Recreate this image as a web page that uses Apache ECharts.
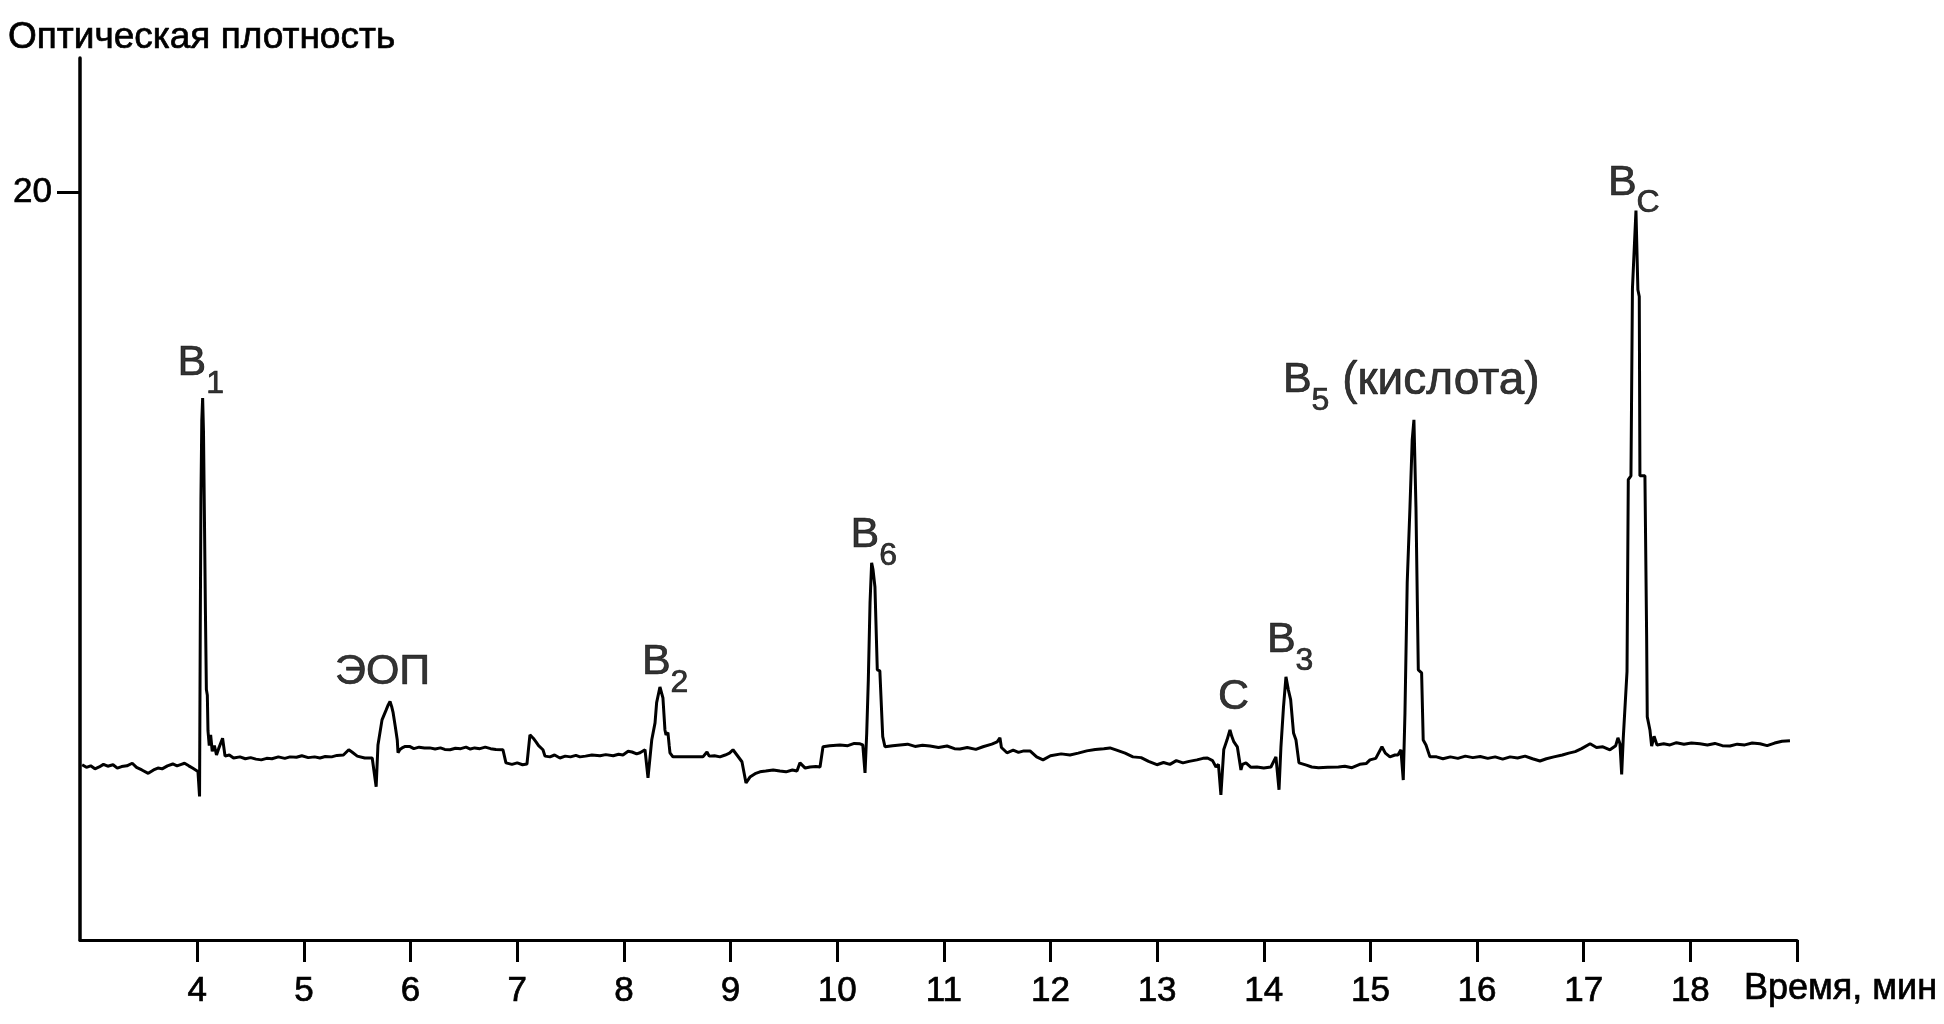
<!DOCTYPE html>
<html>
<head>
<meta charset="utf-8">
<script src="https://cdn.jsdelivr.net/npm/echarts@6/dist/echarts.min.js"></script>
<style>
html,body{margin:0;padding:0;background:#fff;}
#chart{width:1944px;height:1024px;}
</style>
</head>
<body>
<div id="chart"></div>
<script>
// ---- data ----
const yAxisTitle = 'Оптическая плотность';
const xAxisTitle = 'Время, мин';
const xTickValues = [4,5,6,7,8,9,10,11,12,13,14,15,16,17,18,19];
const xLabelValues = [4,5,6,7,8,9,10,11,12,13,14,15,16,17,18];
const yTickValues = [20];

const time = [
2.92,2.96,3.00,3.04,3.08,3.12,3.16,3.21,3.25,3.29,3.34,3.39,3.43,3.48,3.54,3.59,3.63,3.67,3.72,3.77,3.81,3.85,3.88,3.92,3.955,4.006,4.015,
4.021,4.028,4.034,4.042,4.050,4.058,4.066,4.076,4.085,4.094,4.100,4.112,4.125,4.140,4.160,4.180,4.200,4.237,4.26,4.30,4.34,4.40,4.45,4.50,
4.55,4.60,4.65,4.70,4.76,4.82,4.87,4.93,4.98,5.04,5.10,5.15,5.20,5.26,5.31,5.37,5.42,5.45,5.50,5.57,5.64,
5.677,5.694,5.732,5.770,5.790,5.807,5.822,5.835,5.857,5.875,5.882,5.900,5.92,5.95,5.99,6.03,6.08,6.13,6.18,6.23,6.28,6.32,6.37,6.42,6.47,
6.52,6.56,6.60,6.65,6.70,6.75,6.80,6.866,6.894,6.95,7.00,7.05,7.091,7.119,7.15,7.176,7.20,7.241,7.26,7.307,7.35,7.40,7.45,7.50,7.55,7.588,
7.64,7.70,7.776,7.83,7.90,7.95,7.991,8.04,8.076,8.12,8.151,8.198,8.226,8.261,8.292,8.307,8.338,8.366,8.385,8.395,8.413,8.425,8.432,8.460,
8.52,8.60,8.68,8.741,8.779,8.80,8.85,8.901,8.95,8.99,9.023,9.06,9.107,9.145,9.182,9.23,9.276,9.33,9.40,9.463,9.52,9.58,9.623,9.651,9.70,
9.745,9.80,9.839,9.867,9.93,10.026,10.10,10.16,10.214,10.24,10.261,10.277,10.292,10.308,10.323,10.336,10.354,10.376,10.40,10.411,10.427,
10.448,10.52,10.589,10.66,10.73,10.80,10.870,10.95,11.03,11.10,11.151,11.22,11.30,11.367,11.45,11.50,11.526,11.54,11.592,11.65,11.70,
11.75,11.808,11.87,11.930,12.00,12.10,12.183,12.26,12.34,12.42,12.50,12.558,12.62,12.70,12.773,12.85,12.92,12.998,13.06,13.12,13.18,
13.242,13.30,13.373,13.43,13.472,13.52,13.552,13.575,13.598,13.625,13.655,13.683,13.700,13.720,13.752,13.786,13.80,13.833,13.88,13.936,
14.00,14.067,14.114,14.143,14.161,14.185,14.208,14.230,14.252,14.279,14.302,14.330,14.40,14.45,14.513,14.60,14.70,14.76,14.827,14.90,
14.96,14.996,15.05,15.108,15.14,15.183,15.23,15.258,15.286,15.308,15.324,15.345,15.371,15.392,15.408,15.427,15.449,15.465,15.480,15.495,
15.521,15.558,15.62,15.68,15.75,15.82,15.89,15.96,16.03,16.10,16.17,16.24,16.31,16.38,16.45,16.52,16.59,16.65,16.72,16.80,16.86,16.92,
16.98,17.06,17.12,17.18,17.246,17.30,17.321,17.340,17.356,17.371,17.406,17.418,17.443,17.457,17.490,17.508,17.521,17.527,17.574,17.590,
17.596,17.621,17.637,17.660,17.687,17.75,17.809,17.87,17.94,18.01,18.090,18.16,18.23,18.30,18.371,18.44,18.51,18.58,18.653,18.72,18.79,
18.86,18.934
];
const density = [
4.69,4.62,4.66,4.58,4.63,4.70,4.65,4.69,4.60,4.64,4.66,4.73,4.62,4.55,4.46,4.55,4.60,4.58,4.66,4.71,4.66,4.70,4.73,4.66,4.60,4.51,4.55,
3.84,8.5,11.8,13.9,14.5,13.6,11.5,8.8,6.7,6.55,5.6,5.2,5.49,5.05,5.20,4.95,5.12,5.40,4.92,4.95,4.87,4.90,4.85,4.88,
4.84,4.82,4.86,4.85,4.90,4.86,4.90,4.89,4.93,4.88,4.90,4.87,4.91,4.90,4.94,4.95,5.09,5.03,4.92,4.87,4.87,
4.10,5.22,5.89,6.15,6.29,6.38,6.25,6.10,5.70,5.35,5.01,5.10,5.14,5.18,5.18,5.12,5.16,5.14,5.14,5.11,5.14,5.10,5.09,5.13,5.12,
5.16,5.11,5.14,5.12,5.16,5.12,5.10,5.09,4.74,4.70,4.74,4.69,4.71,5.49,5.40,5.30,5.20,5.09,4.92,4.90,4.95,4.87,4.92,4.90,4.94,4.90,
4.92,4.95,4.93,4.96,4.93,4.97,4.95,5.05,5.03,4.98,5.01,5.09,4.34,5.35,5.81,6.35,6.77,6.48,5.62,5.49,5.55,5.20,5.01,4.90,
4.90,4.90,4.90,4.90,5.03,4.92,4.93,4.90,4.95,5.00,5.09,4.95,4.77,4.20,4.36,4.45,4.50,4.52,4.55,4.52,4.50,4.55,4.52,4.74,4.60,
4.63,4.64,4.63,5.17,5.20,5.22,5.20,5.26,5.25,5.22,4.47,5.54,6.96,9.02,10.09,9.91,9.45,7.23,7.20,7.15,5.44,
5.17,5.20,5.22,5.24,5.18,5.21,5.19,5.15,5.19,5.12,5.11,5.15,5.10,5.17,5.24,5.30,5.41,5.15,5.01,5.08,5.02,
5.06,5.06,4.90,4.82,4.93,4.98,4.95,5.00,5.06,5.10,5.12,5.14,5.08,5.00,4.90,4.88,4.78,4.69,4.75,4.70,4.80,
4.74,4.78,4.82,4.86,4.87,4.80,4.63,4.70,3.88,5.10,5.35,5.62,5.45,5.30,5.17,4.55,4.70,4.74,4.62,4.63,
4.60,4.63,4.90,4.02,5.17,6.24,7.04,6.70,6.43,5.54,5.35,4.74,4.68,4.63,4.61,4.62,4.63,4.65,4.61,4.70,
4.72,4.82,4.86,5.17,5.00,4.90,4.95,4.95,5.09,4.28,6.08,9.56,11.59,13.39,13.92,11.59,7.23,7.20,7.15,5.35,
5.22,4.90,4.90,4.85,4.90,4.86,4.92,4.88,4.91,4.86,4.90,4.84,4.90,4.87,4.92,4.85,4.79,4.85,4.90,4.95,5.00,5.04,
5.12,5.25,5.15,5.17,5.09,5.20,5.41,5.25,4.43,5.41,7.18,12.32,12.42,17.43,19.52,17.40,17.22,12.42,12.42,8.14,
5.97,5.62,5.19,5.45,5.22,5.25,5.22,5.28,5.24,5.27,5.25,5.22,5.26,5.20,5.19,5.24,5.22,5.27,5.25,5.20,5.27,
5.32,5.33
];

// peak annotations (attached to peak apexes)
const peakNames  = ['B1', 'ЭОП', 'B2', 'B6', 'C', 'B3', 'B5', 'BC'];
const peakLabels = ['{b|B}{s|1}', '{b|ЭОП}', '{b|B}{s|2}', '{b|B}{s|6}', '{b|C}', '{b|B}{s|3}', '{b|B}{s|5}{w| (кислота)}', '{b|B}{s|C}'];
const peakTimes  = [4.050, 5.807, 8.338, 10.323, 13.683, 14.208, 15.408, 17.490];
const peakValues = [14.5, 6.38, 6.77, 10.09, 5.62, 7.04, 13.92, 19.52];

// label placement (pixels relative to apex): [dx, gap above apex]
const labelPlacement = [[-25,19],[-55,14],[-18,9],[-21,12],[-12,17],[-19,21],[-131,24],[-28,12]];

// ---- chart ----
const FONT = '"Liberation Sans", Arial, sans-serif';
const INK = {color: '#000', textBorderColor: '#000', textBorderWidth: 0.7};
const chart = echarts.init(document.getElementById('chart'), null, {renderer: 'canvas'});

const trace = time.map((t, i) => [t, density[i]]);
const peaks = peakTimes.map((t, i) => ({
  value: [t, peakValues[i]],
  name: peakNames[i],
  label: {
    formatter: peakLabels[i],
    offset: [labelPlacement[i][0], -labelPlacement[i][1] - 37]
  }
}));

chart.setOption({
  animation: false,
  backgroundColor: '#fff',
  title: [
    {text: yAxisTitle, left: 8, top: 19, padding: 0,
     textStyle: Object.assign({fontFamily: FONT, fontSize: 37, fontWeight: 'normal'}, INK)},
    {text: xAxisTitle, left: 1744, top: 971, padding: 0,
     textStyle: Object.assign({fontFamily: FONT, fontSize: 36, fontWeight: 'normal'}, INK)}
  ],
  grid: {left: 80, right: 147, top: 58, bottom: 84, containLabel: false},
  xAxis: {
    type: 'value', min: 2.9, max: 19,
    axisLine: {show: true, onZero: false, lineStyle: {color: '#000', width: 3}},
    axisTick: {show: true, inside: false, length: 22, customValues: xTickValues,
               lineStyle: {color: '#000', width: 3}},
    axisLabel: Object.assign({show: true, customValues: xLabelValues, margin: 34,
                fontFamily: FONT, fontSize: 35}, INK),
    splitLine: {show: false}
  },
  yAxis: {
    type: 'value', min: 0, max: 23.6,
    axisLine: {show: true, onZero: false, lineStyle: {color: '#000', width: 3.5}},
    axisTick: {show: true, inside: false, length: 23, customValues: yTickValues,
               lineStyle: {color: '#000', width: 3}},
    axisLabel: Object.assign({show: true, customValues: yTickValues, margin: 28,
                fontFamily: FONT, fontSize: 35}, INK),
    splitLine: {show: false}
  },
  series: [
    {
      type: 'line',
      data: trace,
      showSymbol: false,
      symbol: 'none',
      smooth: false,
      lineStyle: {color: '#000', width: 3},
      z: 2
    },
    {
      type: 'scatter',
      data: peaks,
      symbolSize: 0.1,
      itemStyle: {color: 'rgba(0,0,0,0)'},
      label: {
        show: true,
        position: [0, 0],
        align: 'left',
        verticalAlign: 'top',
        color: '#000',
        rich: {
          b: Object.assign({fontFamily: FONT, fontSize: 43, lineHeight: 58, verticalAlign: 'top'}, INK),
          w: Object.assign({fontFamily: FONT, fontSize: 46, lineHeight: 58, verticalAlign: 'top'}, INK),
          s: Object.assign({fontFamily: FONT, fontSize: 32, lineHeight: 32, verticalAlign: 'bottom'}, INK)
        }
      },
      z: 3
    }
  ]
});
</script>
</body>
</html>
